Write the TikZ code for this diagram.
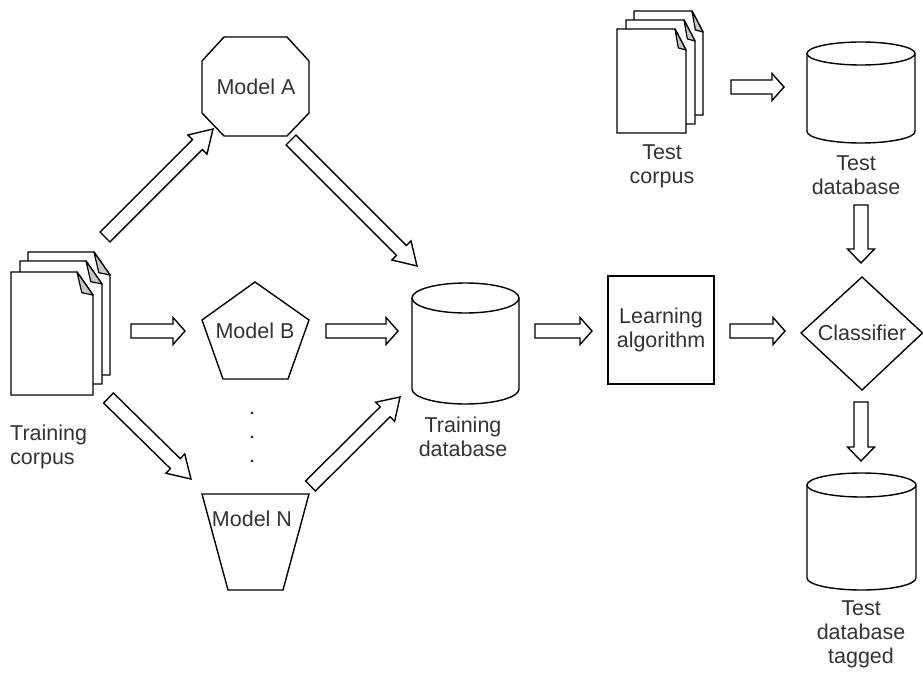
\documentclass[tikz,border=0pt]{standalone}
\usepackage{fontspec}
\setmainfont{Liberation Sans}
\usetikzlibrary{calc}
\definecolor{txt}{RGB}{51,51,51}
\definecolor{flapgray}{RGB}{200,200,200}
\tikzset{
  every node/.style={font=\fontsize{21.5}{24}\selectfont, text=txt, inner sep=0pt, align=center},
  outline/.style={draw=black, line width=1.4pt, fill=white, line join=miter},
  flapline/.style={draw=black, line width=1.2pt, fill=flapgray, line join=round},
  blockarrow/.style={draw=black, line width=1.4pt, fill=white, line join=miter},
}
% block arrow between two named coordinates: #1 start, #2 end, #3 head length
\newcommand\blockarrow[3]{%
  \coordinate (banck) at ($(#2)!#3pt!(#1)$);
  \draw[blockarrow] ($(#1)!7pt!90:(#2)$) -- ($(banck)!7pt!-90:(#1)$)
    -- ($(banck)!13.5pt!-90:(#1)$) -- (#2) -- ($(banck)!13.5pt!90:(#1)$)
    -- ($(banck)!7pt!90:(#1)$) -- ($(#1)!7pt!-90:(#2)$) -- cycle;
}
% document page: x y w h fx fy
\newcommand\docpage[6]{%
  \draw[outline] (#1,#2) -- ({#1+#3-#5},#2) -- ({#1+#3},{#2+#6}) -- ({#1+#3},{#2+#4}) -- (#1,{#2+#4}) -- cycle;
  \draw[flapline] ({#1+#3-#5},#2) -- ({#1+#3},{#2+#6}) -- ({#1+#3-0.7*#5},{#2+0.9*#6}) -- cycle;
}
% cylinder: cx rx ytop ybottom ry
\newcommand\dbcyl[5]{%
  \draw[outline] ({#1-#2},#3) -- ({#1-#2},#4) arc[start angle=180, end angle=360, x radius=#2pt, y radius=#5pt] -- ({#1+#2},#3);
  \draw[outline] (#1,#3) ellipse[x radius=#2pt, y radius=#5pt];
}
\begin{document}
\begin{tikzpicture}[x=1pt, y=-1pt]
\useasboundingbox (0,0) rectangle (923,674);

% training corpus
\docpage{28}{252}{82}{123}{16}{23}
\docpage{20}{261}{82}{123}{16}{23}
\docpage{11}{272}{82}{123}{16}{23}
\node[align=left, anchor=west] (traincorpus) at (10,446.5) {Training\\corpus};

% test corpus
\docpage{634}{11}{69}{104}{11}{21}
\docpage{626}{20}{69}{104}{11}{21}
\docpage{617}{29}{69}{104}{11}{21}
\node (testcorpus) at (662,166) {Test\\corpus};

% Model A octagon
\draw[outline] (224,37) -- (287,37) -- (309,61) -- (309,113) -- (287,136) -- (224,136) -- (202,113) -- (202,61) -- cycle;
\node (modelA) at (256,87) {Model A};

% Model B pentagon
\draw[outline] (255,282) -- (309,320) -- (288,379) -- (223,379) -- (202,320) -- cycle;
\node (modelB) at (255,331) {Model B};

% Model N trapezoid
\draw[outline] (202,494) -- (309,494) -- (283,590) -- (228,590) -- cycle;
\node (modelN) at (252,519) {Model N};

% dots
\fill[txt] (252,413) circle[radius=1.7pt];
\fill[txt] (252,437) circle[radius=1.7pt];
\fill[txt] (252,461) circle[radius=1.7pt];

% training database
\dbcyl{465.5}{53.5}{298}{389}{15}
\node (traindb) at (463,436.5) {Training\\database};

% test database
\dbcyl{861}{54}{53.5}{131.5}{11.5}
\node (testdb) at (856,175) {Test\\database};

% tagged
\dbcyl{861.5}{54.5}{485}{578}{12}
\node (tagged) at (861,634) {Test\\database\\tagged};

% learning algorithm
\draw[outline] (608,276) rectangle (714,384);
\node (learn) at (661,330) {Learning\\algorithm};

% classifier
\draw[outline] (862,277) -- (922.5,333) -- (862,390) -- (801,333) -- cycle;
\node (classifier) at (862,333) {Classifier};

% arrows
\coordinate (a1s) at (105,237);   \coordinate (a1e) at (213,129);
\coordinate (a2s) at (291,140);   \coordinate (a2e) at (417,266);
\coordinate (a3s) at (131,331);   \coordinate (a3e) at (185,331);
\coordinate (a4s) at (326,331);   \coordinate (a4e) at (398,331);
\coordinate (a5s) at (108.5,398); \coordinate (a5e) at (191,479);
\coordinate (a6s) at (310.5,486); \coordinate (a6e) at (400,397);
\coordinate (a7s) at (535,331);   \coordinate (a7e) at (592,331);
\coordinate (a8s) at (730,331);   \coordinate (a8e) at (785,331);
\coordinate (a9s) at (731,87);    \coordinate (a9e) at (784,87);
\coordinate (a10s) at (861,205);  \coordinate (a10e) at (861,263);
\coordinate (a11s) at (861,402);  \coordinate (a11e) at (861,461);
\blockarrow{a1s}{a1e}{22}
\blockarrow{a2s}{a2e}{22}
\blockarrow{a3s}{a3e}{12}
\blockarrow{a4s}{a4e}{12}
\blockarrow{a5s}{a5e}{22}
\blockarrow{a6s}{a6e}{21}
\blockarrow{a7s}{a7e}{12}
\blockarrow{a8s}{a8e}{12}
\blockarrow{a9s}{a9e}{12}
\blockarrow{a10s}{a10e}{14}
\blockarrow{a11s}{a11e}{14}
\end{tikzpicture}
\end{document}
